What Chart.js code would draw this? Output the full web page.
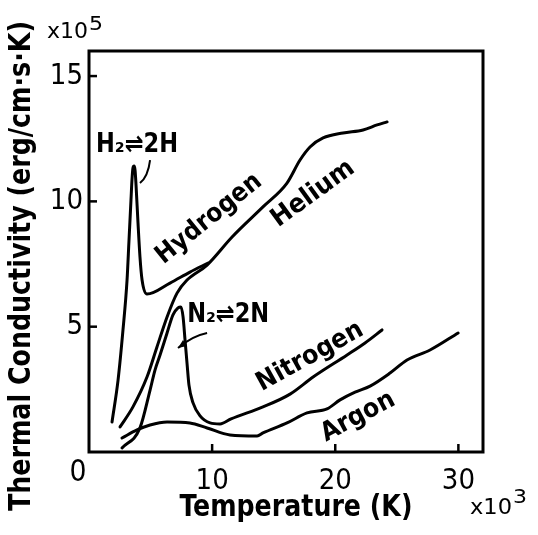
<!DOCTYPE html>
<html>
<head>
<meta charset="utf-8">
<script src="https://cdn.jsdelivr.net/npm/chart.js@4"></script>
<style>
  html, body { margin: 0; padding: 0; background: #fff; }
  #box { width: 538px; height: 535px; }
</style>
</head>
<body>
<div id="box"><canvas id="chart" width="538" height="535"></canvas></div>
<script>
// temperature in 10^3 K, conductivity in 10^5 erg/(cm s K)
const hydrogenT = [1.87, 2.36, 2.76, 3.09, 3.25, 3.41, 3.49, 3.57, 3.66, 3.74, 3.82, 3.98, 4.14, 4.31, 4.71, 6.58, 8.2, 9.67];
const hydrogenK = [1.2, 2.87, 4.87, 6.86, 8.46, 10.06, 10.85, 11.33, 11.41, 11.25, 10.65, 9.14, 7.78, 6.86, 6.3, 6.74, 7.18, 7.54];
const heliumT = [2.52, 3.57, 4.71, 5.52, 6.34, 7.15, 7.96, 9.59, 11.62, 14.13, 16.08, 17.14, 17.95, 19.01, 20.63, 22.26, 23.4, 24.21];
const heliumK = [1.0, 1.8, 2.99, 4.19, 5.39, 6.34, 6.86, 7.46, 8.58, 9.78, 10.73, 11.65, 12.17, 12.53, 12.73, 12.85, 13.05, 13.17];
const nitrogenT = [2.68, 4.14, 4.96, 5.36, 5.77, 6.34, 6.82, 7.23, 7.47, 7.64, 7.8, 7.96, 8.12, 8.45, 9.02, 9.83, 10.64, 11.54, 14.13, 16.33, 18.2, 20.96, 22.42, 23.8];
const nitrogenK = [0.16, 0.96, 2.47, 3.27, 3.87, 4.75, 5.47, 5.75, 5.79, 5.39, 4.47, 3.55, 2.67, 1.96, 1.44, 1.16, 1.12, 1.32, 1.8, 2.31, 2.99, 3.87, 4.35, 4.87];
const argonT = [2.68, 3.9, 4.96, 6.34, 8.2, 9.59, 11.45, 13.65, 14.13, 16.08, 17.71, 19.33, 20.39, 21.61, 22.83, 24.45, 25.83, 27.7, 29.98];
const argonK = [0.56, 0.88, 1.08, 1.2, 1.16, 0.96, 0.68, 0.64, 0.76, 1.16, 1.56, 1.72, 2.08, 2.39, 2.63, 3.15, 3.67, 4.07, 4.75];

const xTicks = [10, 20, 30];
const yTicks = [5, 10, 15];

// curve labels: [text, T, K, angle in degrees, width px]
const curveLabels = [
    ["H\u2082\u21CC2H", 3.9, 12.25, 0, 82],
    ["Hydrogen", 9.75, 9.3, -39, 128],
    ["Helium", 18.2, 10.3, -36, 96],
    ["N\u2082\u21CC2N", 11.3, 5.45, 0, 82],
    ["Nitrogen", 17.95, 3.8, -29, 118],
    ["Argon", 21.85, 1.4, -28, 80]
];

const FONT = '"DejaVu Sans Condensed", "DejaVu Sans", sans-serif';

function pts(xs, ys) {
    return xs.map((x, i) => ({ x: x, y: ys[i] }));
}

function curve(label, xs, ys) {
    return {
        label: label,
        data: pts(xs, ys),
        borderColor: "#000",
        borderWidth: 3,
        pointRadius: 0,
        fill: false,
        showLine: true,
        cubicInterpolationMode: "monotone",
        borderCapStyle: "round"
    };
}

// draw text squeezed or stretched to a given width
function fitText(ctx, txt, x, y, width, font, angle, align) {
    ctx.save();
    ctx.font = font;
    ctx.textAlign = align || "center";
    ctx.translate(x, y);
    ctx.rotate((angle || 0) * Math.PI / 180);
    const w = ctx.measureText(txt).width;
    ctx.scale(width / w, 1);
    ctx.fillText(txt, 0, 0);
    ctx.restore();
}

const decor = {
    id: "decor",
    afterDraw(chart) {
        const ctx = chart.ctx;
        const xs = chart.scales.x;
        const ys = chart.scales.y;
        const a = chart.chartArea;
        ctx.save();
        ctx.strokeStyle = "#000";
        ctx.fillStyle = "#000";
        ctx.lineWidth = 3;
        ctx.strokeRect(a.left, a.top, a.right - a.left, a.bottom - a.top);
        ctx.lineWidth = 2.5;
        for (const v of yTicks) {
            const y = ys.getPixelForValue(v);
            ctx.beginPath();
            ctx.moveTo(a.left, y);
            ctx.lineTo(a.left + 8, y);
            ctx.stroke();
        }
        for (const v of xTicks) {
            const x = xs.getPixelForValue(v);
            ctx.beginPath();
            ctx.moveTo(x, a.bottom);
            ctx.lineTo(x, a.bottom - 8);
            ctx.stroke();
        }

        ctx.textBaseline = "middle";
        fitText(ctx, "0", 78, 473, 17, "30px " + FONT);

        // axis titles
        fitText(ctx, "Temperature (K)", 296, 508, 233, "bold 31px " + FONT);
        fitText(ctx, "Thermal Conductivity (erg/cm\u00B7s\u00B7K)", 22, 266, 490, "bold 31px " + FONT, -90);

        // multipliers
        ctx.textBaseline = "alphabetic";
        fitText(ctx, "x10", 47, 38, 41, "22px " + FONT, 0, "left");
        fitText(ctx, "5", 89, 30, 14, "20px " + FONT, 0, "left");
        fitText(ctx, "x10", 470, 514, 42, "22px " + FONT, 0, "left");
        fitText(ctx, "3", 513, 503, 14, "20px " + FONT, 0, "left");

        // curve labels
        ctx.textBaseline = "middle";
        for (const [txt, t, k, ang, w] of curveLabels) {
            fitText(ctx, txt, xs.getPixelForValue(t), ys.getPixelForValue(k), w, "bold 26px " + FONT, ang);
        }

        // pointers
        ctx.lineWidth = 2;
        ctx.beginPath();
        ctx.moveTo(xs.getPixelForValue(4.96), ys.getPixelForValue(11.65));
        ctx.quadraticCurveTo(xs.getPixelForValue(4.8), ys.getPixelForValue(11.0),
            xs.getPixelForValue(4.14), ys.getPixelForValue(10.73));
        ctx.stroke();

        const ex = xs.getPixelForValue(7.23), ey = ys.getPixelForValue(4.15);
        ctx.beginPath();
        ctx.moveTo(xs.getPixelForValue(9.59), ys.getPixelForValue(4.75));
        ctx.quadraticCurveTo(xs.getPixelForValue(8.37), ys.getPixelForValue(4.63), ex, ey);
        ctx.stroke();
        ctx.beginPath();
        ctx.moveTo(ex, ey);
        ctx.lineTo(ex + 9, ey - 2);
        ctx.lineTo(ex + 5, ey - 8);
        ctx.closePath();
        ctx.fill();
        ctx.restore();
    }
};

new Chart(document.getElementById("chart"), {
    type: "scatter",
    data: {
        datasets: [
            curve("Hydrogen", hydrogenT, hydrogenK),
            curve("Helium", heliumT, heliumK),
            curve("Nitrogen", nitrogenT, nitrogenK),
            curve("Argon", argonT, argonK)
        ]
    },
    options: {
        responsive: false,
        animation: false,
        layout: { padding: { top: 51, right: 55, left: 0, bottom: 0 } },
        plugins: {
            legend: { display: false },
            tooltip: { enabled: false }
        },
        scales: {
            x: {
                type: "linear",
                min: 0,
                max: 32,
                afterBuildTicks(scale) { scale.ticks = xTicks.map(v => ({ value: v })); },
                afterFit(scale) { scale.height = 83; },
                grid: { display: false, drawTicks: false },
                border: { display: false },
                ticks: { color: "#000", padding: 12, font: { family: FONT, size: 29 } }
            },
            y: {
                type: "linear",
                min: 0,
                max: 16,
                afterBuildTicks(scale) { scale.ticks = yTicks.map(v => ({ value: v })); },
                afterFit(scale) { scale.width = 89; },
                grid: { display: false, drawTicks: false },
                border: { display: false },
                ticks: { color: "#000", padding: 6, font: { family: FONT, size: 29 } }
            }
        }
    },
    plugins: [decor]
});
</script>
</body>
</html>
